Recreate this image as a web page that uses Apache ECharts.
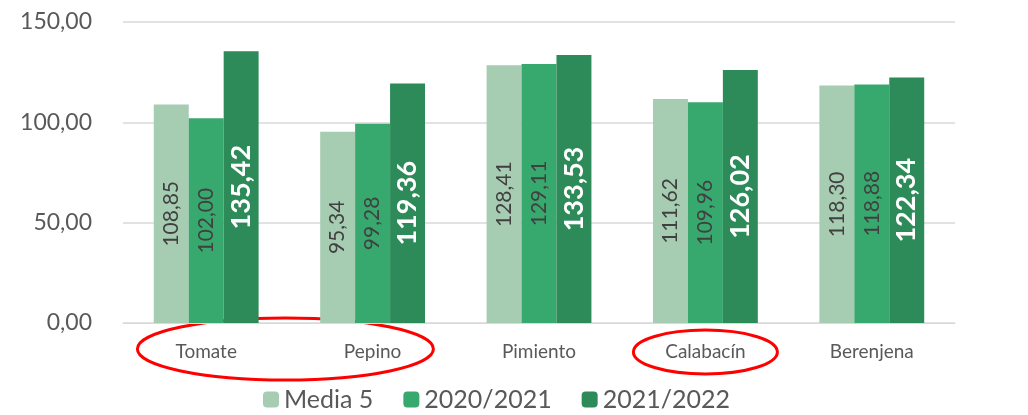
<!DOCTYPE html>
<html>
<head>
<meta charset="utf-8">
<script src="https://cdn.jsdelivr.net/npm/echarts@6/dist/echarts.min.js"></script>
<style>
  html, body { margin: 0; padding: 0; background: #fff; }
  #chart { width: 1028px; height: 415px; }
</style>
</head>
<body>
<div id="chart"></div>
<script>
var categories = ['Tomate', 'Pepino', 'Pimiento', 'Calabacín', 'Berenjena'];
var media5 = [108.85, 95.34, 128.41, 111.62, 118.30];
var campana2021 = [102.00, 99.28, 129.11, 109.96, 118.88];
var campana2022 = [135.42, 119.36, 133.53, 126.02, 122.34];

function coma(v) {
  return v.toFixed(2).replace('.', ',');
}

var font = 'Lato, "Liberation Sans", sans-serif';

var chart = echarts.init(document.getElementById('chart'));
var option = {
  animation: false,
  textStyle: { fontFamily: font },
  color: ['#a6ccb2', '#38a96e', '#2d8a59'],
  grid: { left: 123, right: 73, top: 22, bottom: 92 },
  legend: {
    bottom: -2,
    left: 258,
    itemWidth: 16,
    itemHeight: 16,
    itemGap: 30,
    textStyle: { fontSize: 25, color: '#595959', fontFamily: font },
    data: ['Media 5', '2020/2021', '2021/2022']
  },
  xAxis: {
    type: 'category',
    data: categories,
    axisLine: { lineStyle: { color: '#d9d9d9' } },
    axisTick: { show: false },
    axisLabel: { fontSize: 19, color: '#595959', margin: 19 }
  },
  yAxis: {
    type: 'value',
    min: 0,
    max: 150,
    interval: 50,
    axisLine: { show: false },
    axisTick: { show: false },
    splitLine: { lineStyle: { color: '#d9d9d9', width: 1.5 } },
    axisLabel: {
      fontSize: 23, color: '#595959', margin: 31,
      formatter: function (v) { return coma(v); }
    }
  },
  series: [
    {
      name: 'Media 5', type: 'bar', data: media5,
      barGap: '0%', barCategoryGap: '37%',
      label: {
        show: true, position: 'inside', rotate: 90,
        fontSize: 21, color: '#404040',
        formatter: function (p) { return coma(p.value); }
      }
    },
    {
      name: '2020/2021', type: 'bar', data: campana2021,
      label: {
        show: true, position: 'inside', rotate: 90,
        fontSize: 21, color: '#404040',
        formatter: function (p) { return coma(p.value); }
      }
    },
    {
      name: '2021/2022', type: 'bar', data: campana2022,
      label: {
        show: true, position: 'inside', rotate: 90,
        fontSize: 27, fontWeight: 'bold', color: '#ffffff',
        formatter: function (p) { return coma(p.value); }
      }
    }
  ]
};
chart.setOption(option);

// red ellipses marking Tomate-Pepino and Calabacín
var xTom = chart.convertToPixel({ xAxisIndex: 0 }, 'Tomate');
var xPep = chart.convertToPixel({ xAxisIndex: 0 }, 'Pepino');
var xCal = chart.convertToPixel({ xAxisIndex: 0 }, 'Calabacín');
var yBase = chart.convertToPixel({ yAxisIndex: 0 }, 0);
chart.setOption({
  graphic: [
    {
      type: 'ellipse',
      shape: { cx: (xTom + xPep) / 2 - 4, cy: yBase + 26, rx: 148, ry: 31 },
      style: { fill: 'none', stroke: '#ff0000', lineWidth: 3 }
    },
    {
      type: 'ellipse',
      shape: { cx: xCal, cy: yBase + 29, rx: 72, ry: 22 },
      style: { fill: 'none', stroke: '#ff0000', lineWidth: 3 }
    }
  ]
});
</script>
</body>
</html>
